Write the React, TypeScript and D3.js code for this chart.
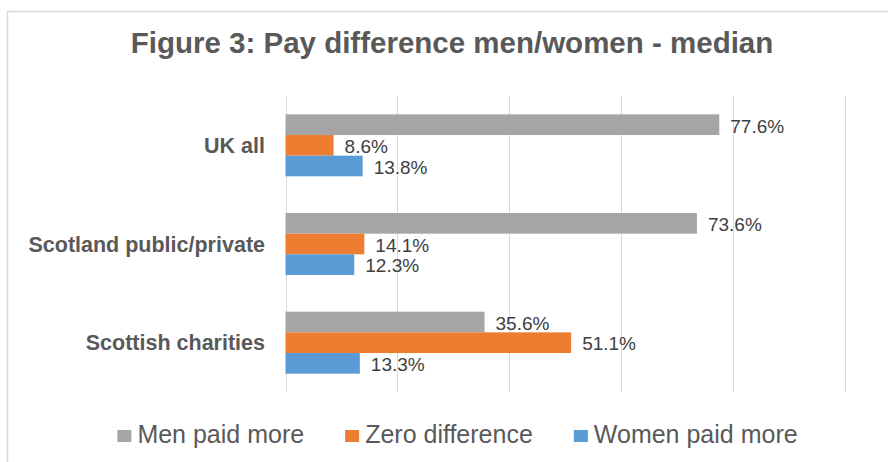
import React, { useEffect, useRef } from 'react';
import * as d3 from 'd3';

const categories = ['UK all', 'Scotland public/private', 'Scottish charities'];
const seriesNames = ['Men paid more', 'Zero difference', 'Women paid more'];
const menPaidMore = [77.6, 73.6, 35.6];
const zeroDifference = [8.6, 14.1, 51.1];
const womenPaidMore = [13.8, 12.3, 13.3];
const xTicks = [0, 20, 40, 60, 80, 100];
const colors = ['#A5A5A5', '#ED7D31', '#5B9BD5'];

const W = 888;
const H = 462;
const FONT = '"Liberation Sans", Arial, sans-serif';

export default function App() {
  const ref = useRef<SVGSVGElement>(null);

  useEffect(() => {
    const svg = d3.select(ref.current);
    svg.selectAll('*').remove();

    const series = [menPaidMore, zeroDifference, womenPaidMore];
    const rows = categories.map((c, i) => ({
      cat: c,
      vals: series.map((s, j) => ({ name: seriesNames[j], value: s[i], k: j })),
    }));

    // outer frame (runs off the right / bottom edge like the original)
    svg.append('rect')
      .attr('x', 7.5).attr('y', 11.5)
      .attr('width', 1000).attr('height', 600)
      .attr('fill', '#fff')
      .attr('stroke', '#d9d9d9')
      .attr('stroke-width', 1.5);

    svg.append('text')
      .attr('x', 452).attr('y', 53)
      .attr('text-anchor', 'middle')
      .attr('font-family', FONT)
      .attr('font-weight', 'bold')
      .attr('font-size', 29.5)
      .attr('fill', '#595959')
      .text('Figure 3: Pay difference men/women - median');

    const x = d3.scaleLinear().domain([0, 100]).range([285.5, 844.5]);
    const y = d3.scaleBand<string>()
      .domain(categories)
      .range([96, 392])
      .paddingInner(0.372)
      .paddingOuter(0.186);
    const ySub = d3.scaleBand<number>()
      .domain([0, 1, 2])
      .range([0, y.bandwidth()]);

    // gridlines
    svg.append('g')
      .selectAll('line')
      .data(xTicks)
      .enter()
      .append('line')
      .attr('x1', d => Math.round(x(d)) + 0.5)
      .attr('x2', d => Math.round(x(d)) + 0.5)
      .attr('y1', 96).attr('y2', 392)
      .attr('stroke', '#d9d9d9')
      .attr('stroke-width', 1);

    // category labels
    svg.append('g')
      .selectAll('text')
      .data(categories)
      .enter()
      .append('text')
      .attr('x', 265)
      .attr('y', d => (y(d) as number) + y.bandwidth() / 2)
      .attr('dy', '0.36em')
      .attr('text-anchor', 'end')
      .attr('font-family', FONT)
      .attr('font-weight', 'bold')
      .attr('font-size', 21.5)
      .attr('fill', '#595959')
      .text(d => d);

    const groups = svg.append('g')
      .selectAll('g')
      .data(rows)
      .enter()
      .append('g')
      .attr('transform', d => 'translate(0,' + y(d.cat) + ')');

    groups.selectAll('rect')
      .data(d => d.vals)
      .enter()
      .append('rect')
      .attr('x', x(0))
      .attr('y', d => ySub(d.k) as number)
      .attr('width', d => x(d.value) - x(0))
      .attr('height', ySub.bandwidth())
      .attr('fill', d => colors[d.k]);

    groups.selectAll('text')
      .data(d => d.vals)
      .enter()
      .append('text')
      .attr('x', d => x(d.value) + 11)
      .attr('y', d => (ySub(d.k) as number) + ySub.bandwidth() / 2 + 1)
      .attr('dy', '0.36em')
      .attr('font-family', FONT)
      .attr('font-size', 19)
      .attr('fill', '#404040')
      .text(d => d3.format('.1f')(d.value) + '%');

    // legend, measured then centred
    const legend = svg.append('g');
    const items = legend.selectAll('g')
      .data(seriesNames)
      .enter()
      .append('g');
    items.append('rect')
      .attr('y', 430)
      .attr('width', 14).attr('height', 12)
      .attr('fill', (d, i) => colors[i]);
    items.append('text')
      .attr('x', 20)
      .attr('y', 442.5)
      .attr('font-family', FONT)
      .attr('font-size', 25)
      .attr('fill', '#595959')
      .text(d => d);

    const widths: number[] = [];
    items.each(function () {
      const t = d3.select(this).select('text').node() as SVGTextElement;
      widths.push(20 + t.getComputedTextLength());
    });
    const gap = 41;
    const total = d3.sum(widths) + gap * (widths.length - 1);
    let cx = 457.5 - total / 2;
    items.attr('transform', (d, i) => {
      const t = 'translate(' + cx + ',0)';
      cx += widths[i] + gap;
      return t;
    });
  }, []);

  return (
    <svg
      ref={ref}
      width={W}
      height={H}
      style={{ position: 'absolute', left: 0, top: 0, background: '#fff' }}
    />
  );
}
